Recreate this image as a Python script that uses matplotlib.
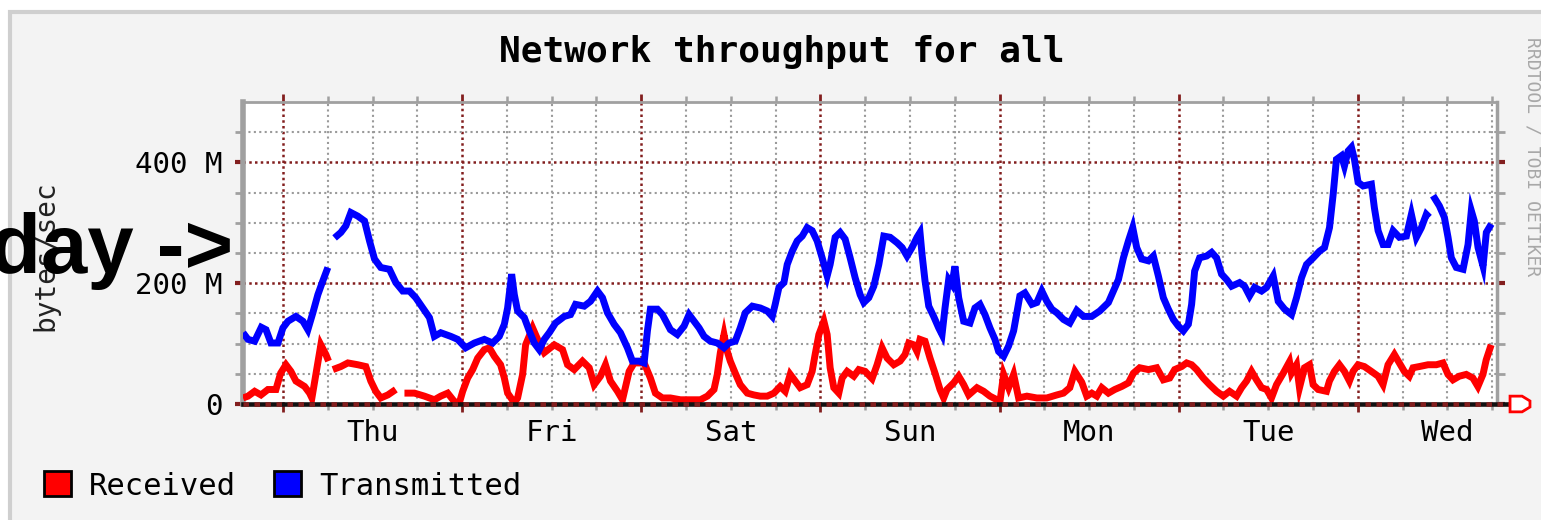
import numpy as np
import matplotlib
matplotlib.use("Agg")
import matplotlib.pyplot as plt
from matplotlib.patches import Patch, Rectangle, Polygon

nan = np.nan

title = "Network throughput for all"
ylabel = "bytes/sec"
watermark = "RRDTOOL / TOBI OETIKER"
overlay = "day ->"
days = ["Thu", "Fri", "Sat", "Sun", "Mon", "Tue", "Wed"]
series_names = ["Received", "Transmitted"]
series_colors = ["#ff0000", "#0000ff"]
ytick_vals = [0, 200, 400]
ytick_labels = ["0", "200 M", "400 M"]
x_start, x_end = -5.35, 162.65   # hours since Thu 00:00
y_max = 500                      # M bytes/sec

# (hours since Thu 00:00, M bytes/sec), nan = unknown
transmitted = [
    (-5.35, 118), (-4.68, 107), (-3.79, 104), (-2.90, 127), (-2.27, 123), (-1.61, 101),
    (-0.67, 101), (0.0, 126), (0.67, 137), (1.74, 145), (2.68, 137), (3.34, 123),
    (4.01, 151), (4.68, 181), (5.35, 204), (6.02, 226), (6.4, nan), (6.92, 275),
    (7.76, 284), (8.43, 295), (9.10, 317), (10.03, 311), (10.93, 303), (11.60, 270),
    (12.27, 240), (13.11, 226), (14.27, 223), (15.12, 201), (16.05, 187), (16.95, 187),
    (17.79, 176), (18.73, 159), (19.63, 143), (20.29, 112), (21.14, 118), (22.48, 112),
    (23.41, 107), (24.48, 93), (25.65, 101), (26.98, 107), (28.09, 101), (28.99, 112),
    (29.66, 132), (30.10, 159), (30.64, 215), (31.00, 181), (31.44, 154), (32.34, 143),
    (33.00, 121), (33.67, 101), (34.34, 90), (35.01, 107), (35.68, 118), (36.52, 134),
    (37.69, 145), (38.53, 148), (39.20, 165), (40.36, 162), (41.20, 170), (42.14, 187),
    (42.81, 176), (43.48, 151), (44.37, 132), (45.22, 118), (46.15, 93), (46.82, 71),
    (47.72, 71), (48.39, 68), (48.83, 121), (49.23, 157), (50.17, 157), (50.84, 148),
    (51.91, 123), (52.84, 115), (53.74, 129), (54.41, 148), (55.08, 137), (55.75, 126),
    (56.42, 112), (57.26, 104), (58.19, 101), (59.09, 93), (59.76, 101), (60.60, 104),
    (61.27, 126), (61.94, 151), (62.88, 162), (63.95, 159), (64.88, 154), (65.55, 145),
    (65.95, 165), (66.45, 193), (67.12, 201), (67.56, 231), (68.23, 253), (68.90, 270),
    (69.57, 278), (70.23, 292), (70.90, 287), (71.57, 270), (72.24, 242), (72.91, 212),
    (73.31, 231), (73.98, 276), (74.65, 284), (75.32, 273), (75.99, 242), (76.66, 209),
    (77.33, 181), (77.82, 168), (78.49, 176), (79.16, 195), (79.83, 231), (80.50, 278),
    (81.35, 276), (82.28, 267), (82.95, 259), (83.61, 245), (84.28, 259), (84.95, 276),
    (85.35, 284), (85.62, 248), (86.02, 204), (86.52, 162), (87.18, 145), (87.85, 126),
    (88.30, 115), (88.70, 159), (89.19, 206), (89.63, 198), (90.03, 228), (90.53, 176),
    (91.20, 137), (92.04, 134), (92.71, 159), (93.38, 165), (94.05, 148), (94.72, 126),
    (95.39, 107), (95.88, 87), (96.55, 79), (97.22, 96), (97.89, 121), (98.33, 151),
    (98.73, 179), (99.40, 184), (100.34, 165), (101.00, 168), (101.67, 187), (102.34, 170),
    (103.01, 157), (103.68, 151), (104.57, 140), (105.42, 134), (106.35, 155), (107.25, 145),
    (108.36, 145), (109.43, 154), (110.59, 168), (111.26, 187), (111.93, 206), (112.60, 242),
    (113.27, 270), (113.85, 292), (114.38, 259), (115.05, 240), (115.95, 237), (116.61, 245),
    (117.28, 212), (117.95, 176), (118.62, 157), (119.29, 140), (119.96, 129), (120.63, 121),
    (121.30, 132), (121.74, 165), (122.14, 220), (122.81, 242), (123.75, 245), (124.42, 251),
    (125.08, 242), (125.75, 215), (126.42, 206), (127.09, 195), (128.16, 201), (128.83, 195),
    (129.50, 179), (130.17, 193), (131.11, 187), (131.78, 193), (132.67, 212), (133.34, 170),
    (134.19, 157), (135.12, 148), (135.79, 176), (136.46, 209), (137.13, 231), (138.03, 242),
    (138.87, 253), (139.54, 259), (140.21, 292), (140.70, 347), (141.14, 405), (141.81, 411),
    (142.21, 394), (142.71, 419), (143.15, 425), (143.55, 405), (144.04, 367), (144.71, 361),
    (145.82, 364), (146.22, 325), (146.72, 287), (147.39, 264), (148.06, 264), (148.73, 287),
    (149.57, 276), (150.51, 278), (151.18, 314), (151.85, 276), (152.52, 292), (153.18, 314),
    (153.59, 309), (153.8, nan), (154.08, 345), (154.93, 328), (155.60, 309), (156.09, 276),
    (156.53, 242), (157.20, 226), (158.10, 223), (158.77, 264), (159.21, 320), (159.61, 303),
    (160.11, 259), (160.78, 228), (161.22, 284), (161.89, 298),
]

received = [
    (-5.35, 10), (-4.68, 13), (-3.79, 21), (-2.94, 15), (-2.01, 24), (-0.94, 24),
    (-0.31, 51), (0.40, 65), (1.07, 54), (1.74, 38), (2.90, 29), (3.57, 18),
    (3.88, 10), (4.41, 49), (5.08, 98), (5.75, 82), (6.11, 71), (6.4, nan),
    (6.69, 57), (7.76, 62), (8.70, 68), (10.03, 65), (11.10, 62), (11.77, 38),
    (12.44, 21), (13.11, 10), (14.05, 15), (15.12, 24), (15.7, nan), (16.28, 18),
    (17.62, 18), (18.96, 13), (20.29, 7), (21.14, 13), (22.07, 18), (22.97, 4),
    (23.64, 2), (24.08, 21), (24.75, 43), (25.42, 57), (26.09, 76), (26.98, 90),
    (27.65, 93), (28.32, 79), (29.16, 65), (29.66, 43), (30.10, 18), (31.00, 2),
    (31.44, 10), (32.11, 49), (32.51, 98), (33.45, 126), (34.12, 107), (35.01, 85),
    (36.35, 98), (37.46, 90), (38.13, 65), (39.02, 57), (40.13, 71), (41.03, 60),
    (41.70, 32), (42.54, 46), (43.21, 65), (43.88, 38), (44.82, 21), (45.49, 7),
    (46.38, 54), (47.05, 68), (48.39, 68), (49.23, 43), (49.90, 18), (50.84, 10),
    (51.91, 10), (53.25, 7), (54.58, 7), (55.92, 7), (56.86, 13), (57.75, 24),
    (58.19, 49), (58.60, 85), (59.09, 115), (59.53, 87), (59.93, 71), (60.60, 51),
    (61.27, 32), (62.21, 18), (63.10, 15), (63.95, 13), (64.88, 13), (65.78, 18),
    (66.62, 29), (67.29, 21), (67.96, 49), (68.63, 38), (69.30, 27), (70.23, 32),
    (70.90, 54), (71.30, 82), (71.80, 115), (72.47, 137), (72.91, 115), (73.31, 60),
    (73.80, 27), (74.47, 18), (74.92, 43), (75.59, 54), (76.48, 46), (77.15, 57),
    (78.00, 54), (78.93, 42), (79.60, 65), (80.27, 93), (80.94, 76), (81.83, 65),
    (82.68, 71), (83.35, 82), (83.84, 101), (84.51, 98), (84.95, 87), (85.35, 107),
    (86.02, 104), (86.69, 76), (87.36, 51), (88.03, 24), (88.52, 10), (88.96, 24),
    (89.86, 35), (90.53, 46), (91.20, 32), (91.87, 15), (92.98, 27), (93.88, 21),
    (94.72, 13), (95.66, 7), (96.06, 4), (96.55, 49), (97.22, 27), (97.89, 49),
    (98.56, 10), (99.67, 13), (101.00, 10), (102.34, 10), (103.68, 15), (104.57, 18),
    (105.42, 27), (106.09, 54), (107.02, 36), (107.69, 13), (108.36, 18), (109.03, 13),
    (109.70, 27), (110.59, 18), (111.44, 24), (112.37, 29), (113.27, 35), (113.94, 51),
    (114.78, 60), (115.95, 57), (117.06, 60), (117.95, 40), (118.80, 43), (119.47, 57),
    (120.40, 62), (121.07, 68), (121.74, 65), (122.41, 57), (123.30, 43), (124.15, 32),
    (125.08, 21), (125.98, 13), (126.82, 21), (127.76, 13), (128.43, 27), (129.10, 38),
    (129.77, 54), (130.43, 40), (131.11, 27), (131.78, 24), (132.44, 10), (133.11, 32),
    (134.01, 51), (134.85, 70), (135.12, 51), (135.79, 65), (136.19, 27), (136.86, 60),
    (137.53, 65), (138.02, 32), (138.69, 24), (139.80, 21), (140.20, 38), (140.87, 54),
    (141.54, 65), (142.21, 54), (142.88, 38), (143.37, 54), (144.04, 65), (144.88, 62),
    (145.82, 54), (146.72, 46), (147.38, 32), (148.05, 65), (148.90, 82), (149.57, 68),
    (150.23, 54), (150.90, 46), (151.40, 60), (152.24, 62), (153.41, 65), (154.52, 65),
    (155.41, 68), (156.08, 49), (156.75, 40), (157.59, 46), (158.53, 49), (159.42, 43),
    (160.09, 29), (160.77, 49), (161.20, 73), (161.87, 98),
]

W, H = 1541, 520
MONO = "DejaVu Sans Mono"
MGRID = "#821e1e"
GRID = "#9a9a9a"
FRAME = "#a0a0a0"

fig = plt.figure(figsize=(W / 100, H / 100), dpi=100, facecolor="white")
fig.add_artist(Rectangle((10 / W, -0.05), 1.1, 508 / H + 0.05, transform=fig.transFigure,
                         facecolor="#f3f3f3", edgecolor="#cfcfcf", lw=3, zorder=-10))

ax = fig.add_axes([243 / W, 116 / H, 1254 / W, 302 / H])
ax.set_facecolor("white")

for data, color in zip([received, transmitted], series_colors):
    hrs = [p[0] for p in data]
    vals = [p[1] for p in data]
    ax.plot(hrs, vals, color=color, lw=5, solid_joinstyle="miter", solid_capstyle="butt", zorder=3)

ax.set_xlim(x_start, x_end)
ax.set_ylim(0, y_max)

# x: midnight = major (dark red), every 6h = minor, day name at noon
major_x = [d * 24 for d in range(len(days))]
minor_x, minor_lbl = [], []
for d in range(-1, len(days)):
    for h in (6, 12, 18):
        t = d * 24 + h
        if x_start <= t <= x_end:
            minor_x.append(t)
            minor_lbl.append(days[d] if h == 12 and d >= 0 else "")
ax.set_xticks(major_x, labels=[""] * len(major_x))
ax.set_xticks(minor_x, labels=minor_lbl, minor=True)

ax.set_yticks(ytick_vals, labels=ytick_labels)
ax.set_yticks([v for v in range(50, y_max, 50) if v not in ytick_vals], minor=True)

ax.set_axisbelow(True)
ax.grid(True, which="major", color=MGRID, linestyle=(0, (1.0, 1.3)), lw=1.8)
ax.grid(True, which="minor", color=GRID, linestyle=(0, (1.0, 1.6)), lw=1.5)

ax.tick_params(which="both", direction="out", top=True, right=True, labelright=False, labeltop=False)
ax.tick_params(axis="x", which="major", length=6, width=2, color=MGRID)
ax.tick_params(axis="x", which="minor", length=4, width=1.8, color=FRAME, pad=7,
               labelsize=21, labelcolor="black")
ax.tick_params(axis="y", which="major", length=6, width=3, color=MGRID, pad=9,
               labelsize=21, labelcolor="black")
ax.tick_params(axis="y", which="minor", length=6, width=2, color=FRAME)
for lab in ax.get_xticklabels(minor=True) + ax.get_yticklabels():
    lab.set_family(MONO)

ax.spines["left"].set_color(FRAME)
ax.spines["left"].set_linewidth(4)
ax.spines["top"].set_color(FRAME)
ax.spines["top"].set_linewidth(2)
ax.spines["right"].set_color(FRAME)
ax.spines["right"].set_linewidth(2.5)
ax.spines["bottom"].set_visible(False)

# zero axis with arrow
tr = ax.get_yaxis_transform()
ax.plot([0, 1.0104], [0, 0], transform=tr, color="#111111", lw=3.3, clip_on=False, zorder=5)
ax.plot([0, 1.0104], [0, 0], transform=tr, color=MGRID, lw=3.3, ls=(0, (1.2, 1.2)),
        clip_on=False, zorder=6)
ax.add_patch(Polygon([(1.0104, -13), (1.0104, 13), (1.0200, 13), (1.0263, 5), (1.0263, -5),
                      (1.0200, -13)], closed=True, transform=tr, facecolor="white",
                     edgecolor="#ff0000", lw=2, clip_on=False, zorder=7))

fig.text(782 / W, (H - 52) / H, title, family=MONO, weight="bold", fontsize=26,
         ha="center", va="center")
fig.text(45 / W, (H - 256) / H, ylabel, family=MONO, fontsize=20, rotation=90,
         ha="center", va="center", color="#222222")
fig.text(1533 / W, (H - 157) / H, watermark, family=MONO, fontsize=13, rotation=270,
         ha="center", va="center", color="#a8a8a8")
fig.text(233 / W, (H - 273) / H, overlay, family="Liberation Sans", weight="bold",
         fontsize=60, ha="right", va="baseline", color="black")

handles = [Patch(facecolor=c, edgecolor="black", lw=2) for c in series_colors]
fig.legend(handles, series_names, loc="center left", bbox_to_anchor=(44 / W, (H - 486) / H),
           ncol=2, frameon=False, prop={"family": MONO, "size": 22}, handlelength=0.88,
           handleheight=0.88, handletextpad=0.6, columnspacing=1.25, borderpad=0,
           borderaxespad=0)

fig.savefig("out.png", dpi=100, facecolor=fig.get_facecolor())
